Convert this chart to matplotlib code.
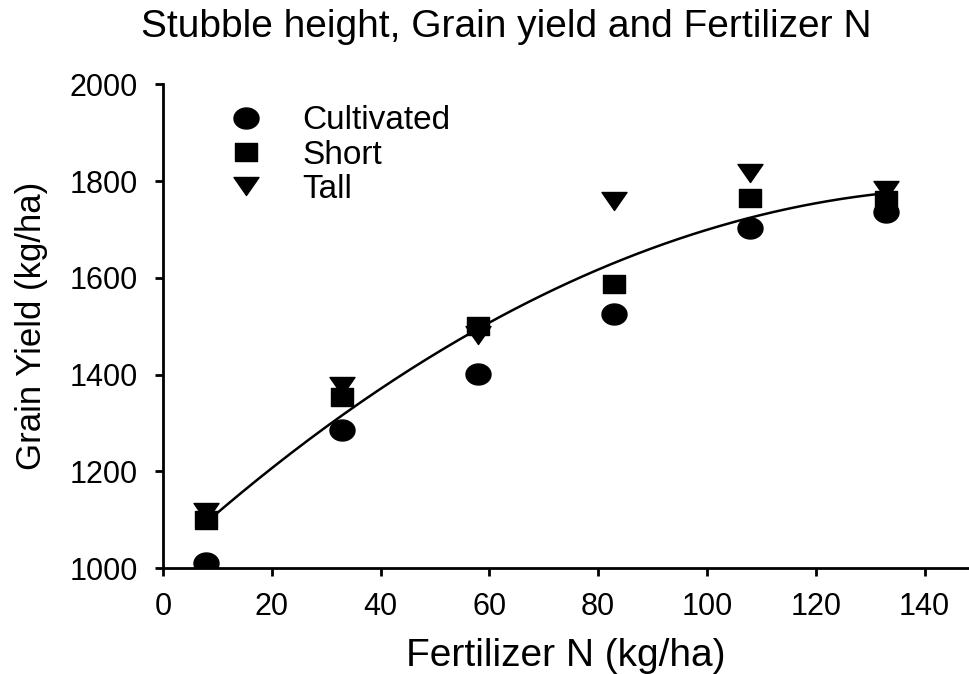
import numpy as np
import matplotlib
matplotlib.use("Agg")
import matplotlib.pyplot as plt
from matplotlib.path import Path

plt.rcParams['font.family'] = ['Liberation Sans', 'DejaVu Sans']

fert_n = [8, 33, 58, 83, 108, 133]
cultivated = [1010, 1285, 1402, 1526, 1702, 1736]
short = [1100, 1354, 1500, 1587, 1765, 1760]
tall = [1116, 1376, 1481, 1758, 1816, 1782]

# quadratic regression line: y = a + b*x + c*x^2
fit_coef = [1015.2, 10.253, -0.03413]
fit_range = [8, 133]

x_ticks = [0, 20, 40, 60, 80, 100, 120, 140]
y_ticks = [1000, 1200, 1400, 1600, 1800, 2000]

# slightly wide marker shapes (as in the reference)
t = np.linspace(0, 2 * np.pi, 60)
ellipse = Path(np.column_stack([np.cos(t), 0.84 * np.sin(t)]), closed=True)
rect = Path([(-1, -0.82), (1, -0.82), (1, 0.82), (-1, 0.82), (-1, -0.82)], closed=True)
tri_down = Path([(-1, 0.72), (1, 0.72), (0, -0.72), (-1, 0.72)], closed=True)

fig = plt.figure(figsize=(9.7, 6.74), dpi=100)
ax = fig.add_axes([0.168, 0.157, 0.830, 0.718])

ax.plot(fert_n, cultivated, linestyle='none', marker=ellipse, color='black',
        markersize=18, label='Cultivated', zorder=3)
ax.plot(fert_n, short, linestyle='none', marker=rect, color='black',
        markersize=16, label='Short', zorder=3)
ax.plot(fert_n, tall, linestyle='none', marker=tri_down, color='black',
        markersize=18, label='Tall', zorder=3)

xs = np.linspace(fit_range[0], fit_range[1], 200)
ys = fit_coef[0] + fit_coef[1] * xs + fit_coef[2] * xs ** 2
ax.plot(xs, ys, color='black', linewidth=1.8, zorder=2)

ax.set_xlim(0, 148)
ax.set_ylim(1000, 2000)
ax.set_xticks(x_ticks)
ax.set_yticks(y_ticks)
ax.spines['top'].set_visible(False)
ax.spines['right'].set_visible(False)
for s in ['left', 'bottom']:
    ax.spines[s].set_linewidth(2.0)
    ax.spines[s].set_clip_on(False)
ax.tick_params(direction='out', length=6, width=2.0, labelsize=22)
ax.tick_params(axis='x', pad=11)
ax.tick_params(axis='y', pad=12)

ax.set_xlabel('Fertilizer N (kg/ha)', fontsize=28, labelpad=12)
ax.set_ylabel('Grain Yield (kg/ha)', fontsize=25)
ax.yaxis.set_label_coords(-0.143, 0.5)
fig.text(0.522, 0.96, 'Stubble height, Grain yield and Fertilizer N', fontsize=28,
         ha='center', va='center')

ax.legend(loc='upper left', bbox_to_anchor=(0.055, 0.984), frameon=False, fontsize=24,
          handletextpad=0.95, labelspacing=0.1, borderaxespad=0, handlelength=1.5)

fig.savefig('out.png', dpi=100)
